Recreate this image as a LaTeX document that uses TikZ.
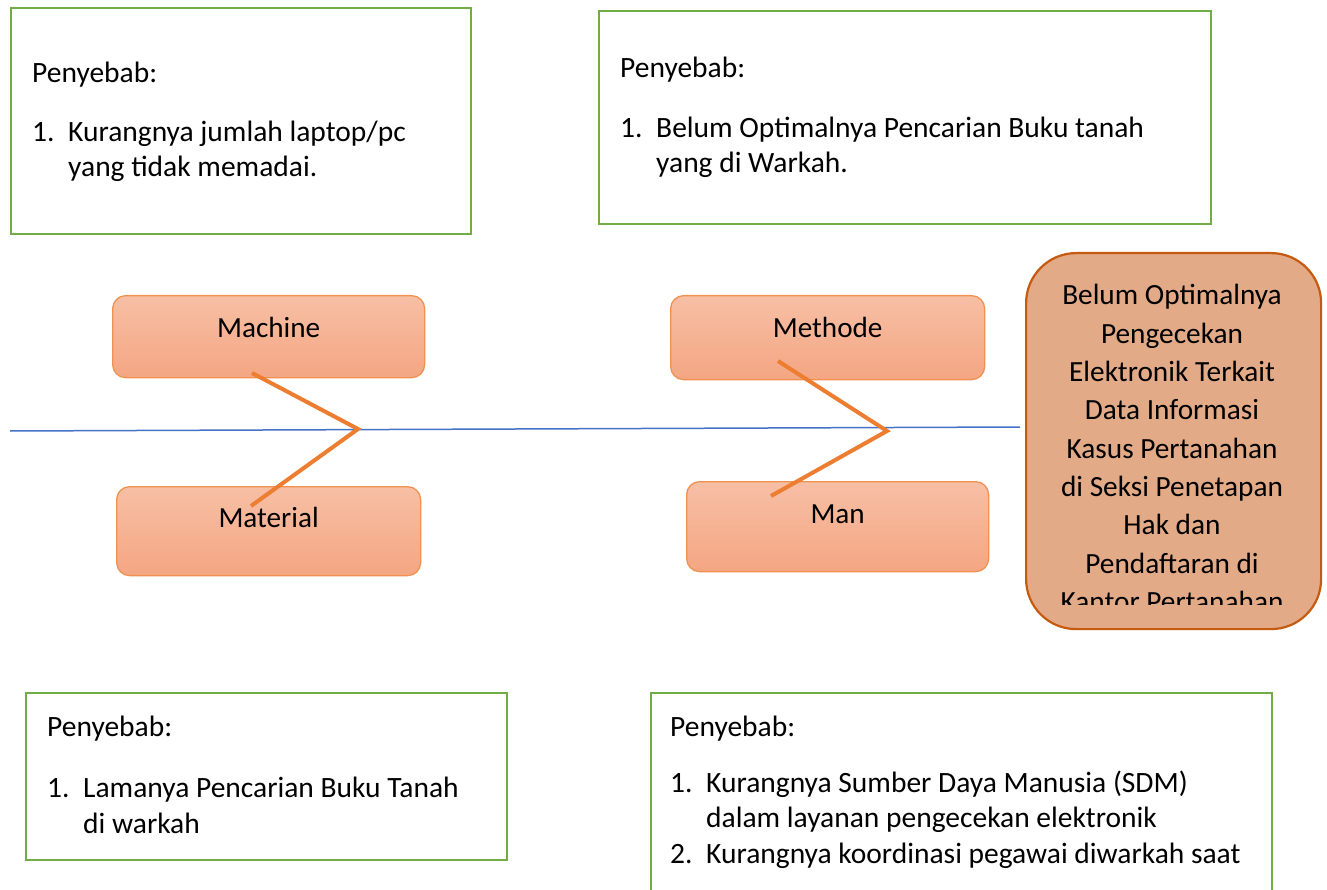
\documentclass[tikz,border=0pt]{standalone}
\usepackage{fontspec}
\setmainfont{Carlito}
\usepackage{tikz}
\usetikzlibrary{positioning,calc}

\definecolor{causegreen}{HTML}{70AD47}
\definecolor{boneorange}{HTML}{ED7D31}
\definecolor{spineblue}{HTML}{4472C4}
\definecolor{catedge}{HTML}{F0914F}
\definecolor{cattop}{HTML}{F7BFA5}
\definecolor{catbot}{HTML}{F4A682}
\definecolor{headfill}{HTML}{E2AA87}
\definecolor{headedge}{HTML}{C55A11}

\begin{document}
\begin{tikzpicture}[x=1pt, y=-1pt,
    causebox/.style={rectangle, draw=causegreen, line width=2.2pt, fill=white, inner sep=0pt, anchor=north west},
    catbox/.style={rectangle, rounded corners=13pt, draw=catedge, line width=1.3pt, top color=cattop, bottom color=catbot, inner sep=0pt, anchor=north west, font=\fontsize{29.2}{35}\selectfont, text height=20pt},
    headbox/.style={rectangle, rounded corners=50pt, draw=headedge, line width=2.2pt, fill=headfill, inner sep=0pt, anchor=north west},
    headtext/.style={anchor=base, inner sep=0pt, font=\fontsize{29.3}{35}\selectfont},
    note/.style={anchor=base west, inner sep=0pt, font=\fontsize{29.5}{35}\selectfont},
    bone/.style={draw=boneorange, line width=4pt},
    spine/.style={draw=spineblue, line width=1.5pt}
]
\clip (0,0) rectangle (1327,890);

% Spine
\coordinate (tail) at (10,431);
\coordinate (spineend) at (1020,427);
\draw[spine] (tail) -- (spineend);

% Causes
\node[causebox, minimum width=460pt, minimum height=226pt] (cause1) at (10,7) {};
\node[note] (c1title) at (32,83) {Penyebab:};
\node[note] (c1num) at (32,142) {1.};
\node[note] (c1a) at (68,142) {Kurangnya jumlah laptop/pc};
\node[note] (c1b) at (68,177) {yang tidak memadai.};

\node[causebox, minimum width=612pt, minimum height=213pt] (cause2) at (598,10) {};
\node[note] (c2title) at (620,78) {Penyebab:};
\node[note] (c2num) at (620,138) {1.};
\node[note] (c2a) at (656,138) {Belum Optimalnya Pencarian Buku tanah};
\node[note] (c2b) at (656,173) {yang di Warkah.};

\node[causebox, minimum width=481pt, minimum height=167pt] (cause3) at (25,692) {};
\node[note] (c3title) at (47,736) {Penyebab:};
\node[note] (c3num) at (47,797) {1.};
\node[note] (c3a) at (83,797) {Lamanya Pencarian Buku Tanah};
\node[note] (c3b) at (83,833) {di warkah};

\node[causebox, minimum width=621pt, minimum height=240pt] (cause4) at (650,692) {};
\node[note] (c4title) at (670,736) {Penyebab:};
\node[note] (c4num) at (670,792) {1.};
\node[note] (c4a) at (706,792) {Kurangnya Sumber Daya Manusia (SDM)};
\node[note] (c4b) at (706,827) {dalam layanan pengecekan elektronik};
\node[note] (c4num2) at (670,863) {2.};
\node[note] (c4c) at (706,863) {Kurangnya koordinasi pegawai diwarkah saat};

% Categories
\node[catbox, minimum width=312pt, minimum height=82pt, text depth=18pt] (machine) at (112,295) {Machine};
\node[catbox, minimum width=304pt, minimum height=89pt, text depth=27pt] (material) at (116,486) {Material};
\node[catbox, minimum width=314pt, minimum height=84pt, text depth=20pt] (methode) at (670,295) {Methode};
\node[catbox, minimum width=302pt, minimum height=90pt, text depth=26pt] (man) at (686,481) {Man};

% Head
\node[headbox, minimum width=295pt, minimum height=376pt] (head) at (1025,252) {};
\begin{scope}
  \clip (1025,252) rectangle (1320,604);
  \foreach \hl [count=\i] in {Belum Optimalnya, Pengecekan, Elektronik Terkait, Data Informasi, Kasus Pertanahan, di Seksi Penetapan, Hak dan, Pendaftaran di, Kantor Pertanahan}
    \node[headtext] (head\i) at (1172,{305+38.3*(\i-1)}) {\hl};
\end{scope}

% Bones
\coordinate (machinebone) at (252,373);
\coordinate (materialbone) at (251,506);
\coordinate (jointleft) at (358,429);
\coordinate (methodebone) at (778,361);
\coordinate (manbone) at (771,496);
\coordinate (jointright) at (887,431);
\draw[bone] (machinebone) -- (jointleft) -- (materialbone);
\draw[bone] (methodebone) -- (jointright) -- (manbone);

\end{tikzpicture}
\end{document}
